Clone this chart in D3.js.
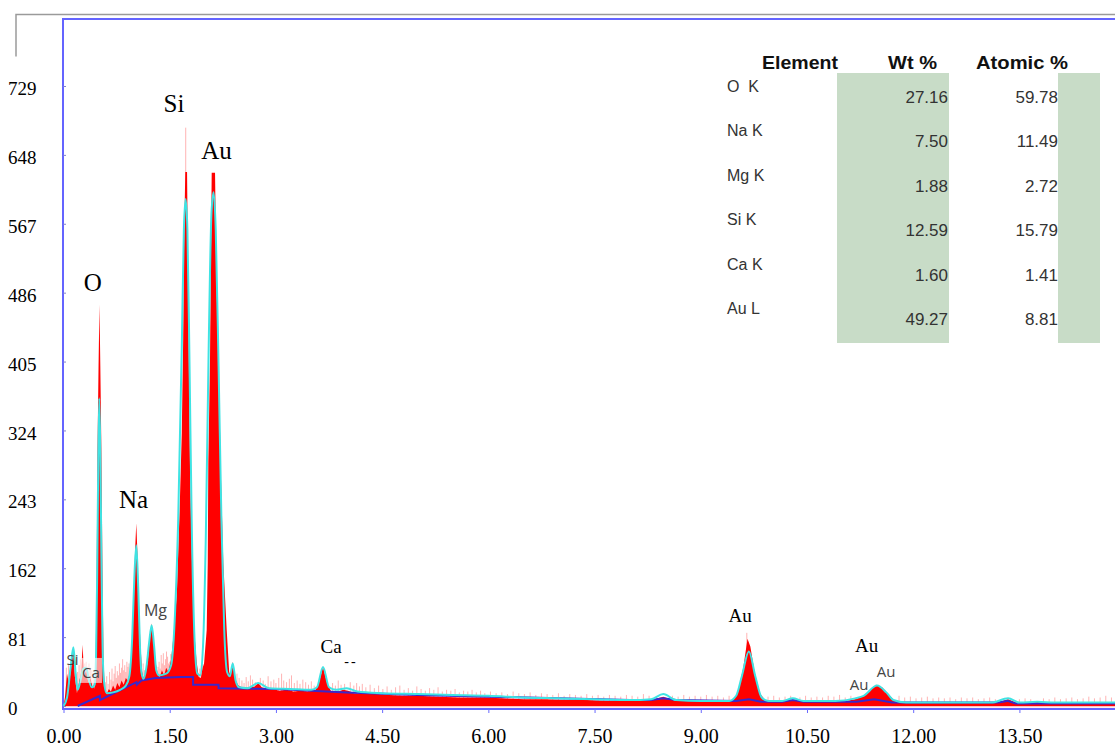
<!DOCTYPE html>
<html>
<head>
<meta charset="utf-8">
<script src="https://cdn.jsdelivr.net/npm/d3@7"></script>
<style>
body{margin:0;background:#fff;}
svg{display:block;}
</style>
</head>
<body>
<script>

// tick labels
var xTicks = [0, 1.5, 3, 4.5, 6, 7.5, 9, 10.5, 12, 13.5];
var yTicks = [0, 81, 162, 243, 324, 405, 486, 567, 648, 729];

// measured spectrum (keV, counts) - solid red
var rawSpectrum = [
  [0.00,0],[0.02,10],[0.05,38],[0.08,25],[0.11,50],[0.14,66],[0.16,35],[0.19,15],[0.22,28],[0.25,40],
  [0.27,72],[0.29,35],[0.32,42],[0.35,28],[0.38,33],[0.41,22],[0.43,25],[0.44,20],
  [0.455,60],[0.468,150],[0.48,300],[0.495,400],[0.508,472],[0.52,400],[0.535,300],[0.55,160],[0.565,60],
  [0.58,22],[0.61,14],[0.64,20],[0.67,17],[0.70,24],[0.73,19],[0.76,27],[0.79,22],[0.82,30],[0.85,25],
  [0.88,33],[0.91,30],[0.93,38],
  [0.95,45],[0.975,85],[0.995,140],[1.012,185],[1.028,215],[1.044,180],[1.06,135],[1.085,75],[1.11,40],
  [1.13,33],[1.16,38],[1.19,52],[1.215,76],[1.245,97],[1.27,82],[1.30,52],[1.33,38],
  [1.36,34],[1.39,42],[1.42,36],[1.45,45],[1.48,40],[1.52,55],[1.55,80],
  [1.60,130],[1.64,230],[1.67,320],[1.69,430],[1.705,560],[1.72,628],[1.745,628],[1.76,500],[1.775,360],
  [1.79,260],[1.815,168],[1.84,95],[1.88,52],[1.91,34],[1.94,33],[1.965,45],
  [1.985,50],[2.022,89],[2.037,168],[2.045,286],[2.069,407],[2.083,536],[2.093,627],[2.14,627],[2.164,486],
  [2.21,328],[2.218,286],[2.257,168],[2.305,89],[2.34,40],
  [2.36,36],[2.39,52],[2.43,30],[2.47,24],[2.52,22],[2.58,20],[2.64,22],[2.70,23],[2.75,27],[2.80,22],
  [2.88,19],[2.95,20],[3.05,18],[3.15,19],[3.25,17],[3.35,18],[3.45,17],[3.55,18],[3.60,25],[3.665,46],
  [3.72,28],[3.78,17],[3.85,16],[3.95,19],[4.02,18],[4.1,15],[4.25,14],[4.4,14],[4.6,13],[4.8,12],
  [5.0,12],[5.3,11],[5.6,10],[5.9,10],[6.2,9],[6.5,8],[6.8,8],[7.1,7],[7.4,7],[7.7,6],[8.0,6],[8.3,7],
  [8.47,11],[8.65,6],[8.9,6],[9.2,5],[9.45,6],[9.52,15],[9.6,45],[9.66,79],[9.7,70],[9.76,40],[9.84,14],
  [9.92,6],[10.1,5],[10.3,7],[10.5,5],[10.8,5],[11.0,5],[11.18,8],[11.3,12],[11.4,20],[11.48,25],
  [11.56,22],[11.65,14],[11.74,6],[11.9,4],[12.3,4],[12.8,4],[13.2,4],[13.34,8],[13.45,4],[13.75,5],
  [14.2,4],[14.85,4]
];

// single-channel noise spikes (keV, counts) - pale red
var noiseSpikes = [
  [0.04,45],[0.07,48],[0.09,42],[0.12,60],[0.18,38],[0.20,40],[0.22,48],[0.24,55],[0.30,50],[0.32,52],
  [0.34,46],[0.36,50],[0.38,45],[0.40,42],[0.42,38],
  [0.59,28],[0.61,35],[0.63,26],[0.65,40],[0.67,31],[0.685,44],[0.70,29],[0.715,38],[0.73,47],[0.745,33],
  [0.76,41],[0.775,36],[0.79,50],[0.805,39],[0.82,45],[0.835,55],[0.85,42],[0.865,48],[0.88,40],[0.895,52],
  [0.91,46],[0.925,50],[1.105,44],[1.125,50],[1.145,42],
  [1.335,46],[1.35,52],[1.365,44],[1.38,60],[1.395,50],[1.41,62],[1.425,48],[1.44,55],[1.455,64],[1.47,58],
  [1.485,50],[1.50,52],[1.515,61],[1.53,57],[1.545,66],[1.726,680],[1.925,44],[1.945,48],[1.96,52],
  [2.33,44],[2.45,38],[2.48,33],
  [2.52,30],[2.55,27],[2.58,34],[2.61,29],[2.64,36],[2.67,31],[2.71,28],[2.78,33],[2.82,30],[2.85,26],
  [2.89,35],[2.93,29],[2.97,31],[3.0,27],[3.04,33],[3.08,38],[3.11,30],[3.15,28],[3.19,32],[3.22,36],
  [3.26,27],[3.3,30],[3.34,26],[3.38,31],[3.42,28],[3.46,25],[3.5,29],[3.54,24],[3.8,27],[3.84,24],
  [3.88,30],[3.92,25],[3.97,26],[4.05,28],[4.1,24],[4.14,27],[4.18,23],[4.22,26],
  [4.27,22],[4.33,25],[4.39,21],[4.45,24],[4.51,20],[4.57,23],[4.63,19],[4.69,22],[4.75,24],[4.81,19],
  [4.87,21],[4.93,18],[4.99,23],[5.05,20],[5.11,18],[5.17,21],[5.23,19],[5.29,22],[5.35,17],[5.41,19],
  [5.47,18],[5.53,20],[5.59,16],[5.65,18],[5.71,17],[5.77,19],[5.83,16],[5.89,18],[5.95,15],
  [6.03,17],[6.11,15],[6.19,16],[6.27,14],[6.35,17],[6.43,15],[6.51,14],[6.59,16],[6.67,13],[6.75,15],
  [6.83,14],[6.91,13],[6.99,15],[7.07,12],[7.15,14],[7.23,13],[7.31,12],[7.39,14],[7.47,12],[7.55,13],
  [7.63,11],[7.71,13],[7.79,12],[7.87,11],[7.95,13],[8.03,12],[8.11,11],[8.19,14],[8.27,12],[8.6,12],
  [8.68,11],[8.76,13],[8.84,11],[8.92,12],[9.0,11],[9.08,13],[9.16,11],[9.24,12],[9.32,10],[9.4,12],
  [9.65,86],
  [9.95,11],[10.03,12],[10.11,10],[10.19,11],[10.27,12],[10.4,10],[10.48,12],[10.56,10],[10.64,11],[10.72,10],
  [10.8,12],[10.88,11],[10.96,13],[11.04,10],[11.12,12],
  [11.8,12],[11.88,10],[11.96,11],[12.04,9],[12.12,10],[12.2,11],[12.28,9],[12.36,10],[12.44,9],[12.52,10],
  [12.6,8],[12.68,10],[12.76,9],[12.84,10],[12.92,8],[13.0,9],[13.08,10],[13.16,8],[13.5,8],[13.58,9],
  [13.66,8],[13.84,9],[13.92,8],[14.0,10],[14.08,8],[14.16,9],[14.24,10],[14.32,8],[14.4,9],[14.48,11],
  [14.56,9],[14.64,10],[14.72,12],[14.8,10]
];

// fitted spectrum (keV, counts) - cyan
var fitSpectrum = [
  [0.0,0],[0.05,10],[0.10,45],[0.14,69],[0.17,40],[0.20,19],[0.24,30],[0.28,44],[0.32,45],[0.36,30],
  [0.40,22],[0.44,25],[0.46,60],[0.475,150],[0.49,280],[0.505,362],[0.52,300],[0.535,180],[0.55,80],
  [0.57,30],[0.61,15],[0.70,16],[0.80,19],[0.88,24],[0.93,35],[0.97,80],[1.00,150],[1.028,189],
  [1.055,140],[1.08,70],[1.10,40],[1.13,32],[1.17,45],[1.21,75],[1.245,95],[1.28,70],[1.31,42],
  [1.35,36],[1.45,38],[1.52,48],[1.57,100],[1.62,220],[1.67,420],[1.70,560],[1.725,596],[1.75,560],
  [1.78,400],[1.81,220],[1.85,80],[1.89,38],[1.93,36],[1.97,70],[2.01,200],[2.05,420],[2.09,580],
  [2.12,604],[2.15,560],[2.19,400],[2.23,220],[2.27,90],[2.31,40],[2.35,35],[2.39,50],[2.43,30],
  [2.48,22],[2.6,21],[2.75,27],[2.9,21],[3.2,20],[3.5,19],[3.58,22],[3.665,46],[3.75,22],[3.85,19],
  [4.0,21],[4.15,17],[4.5,15],[5.0,14],[5.5,13],[6.0,12],[6.5,10],[7.0,9],[7.5,8],[8.0,7],[8.3,8],
  [8.47,14],[8.65,7],[9.0,6],[9.4,6],[9.5,12],[9.58,35],[9.68,64],[9.77,35],[9.86,10],[9.95,6],
  [10.15,6],[10.3,9],[10.45,6],[10.9,6],[11.18,9],[11.3,12],[11.49,24],[11.62,16],[11.72,7],[11.9,4],
  [13.1,4],[13.34,9],[13.5,4],[13.75,5],[14.0,4],[14.85,4]
];

// background (keV, counts) - dark blue
var background = [
  [0.20,0],[0.515,12],[0.515,7],[1.03,28],[1.035,25],[1.10,30],[1.30,33],[1.65,34],[1.83,34],[1.83,25],
  [2.19,25],[2.19,21],[3.0,20],[4.0,16],[5.0,13],[6.0,11],[8.0,7],[8.3,7],[8.47,9],[8.65,7],[9.5,6],
  [9.68,8],[9.85,5],[10.15,5],[10.3,7],[10.45,5],[11.2,5],[11.45,8],[11.7,4],[13.2,4],[13.33,6],
  [13.45,3],[14.85,3]
];

// peak labels (keV, counts of baseline)
var bigLabels = [['O',0.414,488],['Na',0.989,233],['Si',1.561,698],['Au',2.161,643]];
var midLabels = [['Ca',3.778,62],['Au',9.555,99],['Au',11.342,63]];
var smallLabels = [['Mg',1.299,106,16],['Si',0.127,48,15],['Ca',0.388,33,15],['Au',11.235,19,15],['Au',11.617,34,15]];

// quant table
var elements = ['O  K', 'Na K', 'Mg K', 'Si K', 'Ca K', 'Au L'];
var wtPct = ['27.16', '7.50', '1.88', '12.59', '1.60', '49.27'];
var atomicPct = ['59.78', '11.49', '2.72', '15.79', '1.41', '8.81'];


var svg = d3.select('body').append('svg')
    .attr('width', 1115)
    .attr('height', 747);

var x = d3.scaleLinear().domain([0, 14.85]).range([63.5, 1115]);
var y = d3.scaleLinear().domain([0, 729]).range([706, 86]);

// outer grey frame
svg.append('path')
    .attr('d', 'M16,56.5V14.5H1115')
    .attr('fill', 'none')
    .attr('stroke', '#9a9a9a')
    .attr('stroke-width', 1.5);

// plot frame
svg.append('rect')
    .attr('x', 63)
    .attr('y', 19)
    .attr('width', 1080)
    .attr('height', 690)
    .attr('fill', '#fff')
    .attr('stroke', '#6464ff')
    .attr('stroke-width', 2);

svg.append('line')
    .attr('x1', 64).attr('x2', 1115)
    .attr('y1', 706.5).attr('y2', 706.5)
    .attr('stroke', '#ffc0c0')
    .attr('stroke-width', 1.5);

// spectrum
var area = d3.area()
    .x(function(d){ return x(d[0]); })
    .y0(y(0))
    .y1(function(d){ return y(d[1]); });

svg.selectAll('.spike')
    .data(noiseSpikes)
    .enter().append('line')
    .attr('class', 'spike')
    .attr('x1', function(d){ return x(d[0]); })
    .attr('x2', function(d){ return x(d[0]); })
    .attr('y1', y(0))
    .attr('y2', function(d){ return y(d[1]); })
    .attr('stroke', '#ff6a6a')
    .attr('stroke-opacity', 0.5)
    .attr('stroke-width', 1);

svg.append('path')
    .datum(rawSpectrum)
    .attr('d', area)
    .attr('fill', '#ff0000');

var line = d3.line()
    .x(function(d){ return x(d[0]); })
    .y(function(d){ return y(d[1]); });

svg.append('path')
    .datum(background)
    .attr('d', line)
    .attr('fill', 'none')
    .attr('stroke', '#3b27c9')
    .attr('stroke-width', 2);

svg.append('path')
    .datum(fitSpectrum)
    .attr('d', line.curve(d3.curveMonotoneX))
    .attr('fill', 'none')
    .attr('stroke', '#3fe3e3')
    .attr('stroke-width', 2);

// axes
var gx = svg.append('g')
    .attr('transform', 'translate(0,709)')
    .call(d3.axisBottom(x).tickValues(xTicks).tickFormat(d3.format('.2f')).tickSize(4).tickPadding(16));
gx.select('.domain').remove();
gx.selectAll('line').attr('stroke', '#6a6aff');
gx.selectAll('text')
    .attr('font-family', 'Liberation Serif, serif')
    .attr('font-size', 20)
    .attr('fill', '#000');

var gy = svg.append('g')
    .attr('transform', 'translate(63,0)')
    .call(d3.axisLeft(y).tickValues(yTicks).tickSize(-3));
gy.select('.domain').remove();
gy.selectAll('line').attr('stroke', '#8080d0');
gy.selectAll('text')
    .attr('x', -55)
    .attr('dy', '0.45em')
    .attr('text-anchor', 'start')
    .attr('font-family', 'Liberation Serif, serif')
    .attr('font-size', 19)
    .attr('fill', '#000');

// peak labels
svg.selectAll('.big')
    .data(bigLabels)
    .enter().append('text')
    .attr('x', function(d){ return x(d[1]); })
    .attr('y', function(d){ return y(d[2]); })
    .attr('text-anchor', 'middle')
    .attr('font-family', 'Liberation Serif, serif')
    .attr('font-size', 25)
    .text(function(d){ return d[0]; });

svg.selectAll('.mid')
    .data(midLabels)
    .enter().append('text')
    .attr('x', function(d){ return x(d[1]); })
    .attr('y', function(d){ return y(d[2]); })
    .attr('text-anchor', 'middle')
    .attr('font-family', 'Liberation Serif, serif')
    .attr('font-size', 19)
    .text(function(d){ return d[0]; });

svg.append('text')
    .attr('x', x(4.06))
    .attr('y', y(47))
    .attr('text-anchor', 'middle')
    .attr('font-family', 'Liberation Serif, serif')
    .attr('font-size', 14)
    .attr('letter-spacing', 2)
    .text('--');

var small = svg.selectAll('.small')
    .data(smallLabels)
    .enter().append('g');
small.filter(function(d, i){ return i == 2; })
    .append('rect')
    .attr('x', function(d){ return x(d[1]) - 11; })
    .attr('y', function(d){ return y(d[2]) - 20; })
    .attr('width', 22)
    .attr('height', 25)
    .attr('fill', '#fff')
    .attr('fill-opacity', 0.6);
small.append('text')
    .attr('x', function(d){ return x(d[1]); })
    .attr('y', function(d){ return y(d[2]); })
    .attr('text-anchor', 'middle')
    .attr('font-family', 'Open Sans, sans-serif')
    .attr('font-size', function(d){ return d[3]; })
    .attr('fill', '#454545')
    .text(function(d){ return d[0]; });

// table
var rowY = d3.scaleLinear().domain([0, 1]).range([92, 136.4]);

svg.append('rect')
    .attr('x', 837).attr('y', 73)
    .attr('width', 112).attr('height', 270)
    .attr('fill', '#c8dcc7');
svg.append('rect')
    .attr('x', 1058).attr('y', 73)
    .attr('width', 42).attr('height', 270)
    .attr('fill', '#c8dcc7');

var headers = [['Element', 838, 76], ['Wt %', 937, 49], ['Atomic %', 1068, 92]];
svg.selectAll('.hdr')
    .data(headers)
    .enter().append('text')
    .attr('x', function(d){ return d[1] - d[2]; })
    .attr('y', 69)
    .attr('textLength', function(d){ return d[2]; })
    .attr('lengthAdjust', 'spacingAndGlyphs')
    .attr('font-family', 'Liberation Sans, Arial, sans-serif')
    .attr('font-weight', 'bold')
    .attr('font-size', 18)
    .attr('fill', '#111')
    .text(function(d){ return d[0]; });

svg.selectAll('.el')
    .data(elements)
    .enter().append('text')
    .attr('x', 727)
    .attr('y', function(d, i){ return rowY(i); })
    .attr('font-family', 'Liberation Sans, Arial, sans-serif')
    .attr('font-size', 16)
    .attr('fill', '#333')
    .style('white-space', 'pre')
    .text(function(d){ return d; });

svg.selectAll('.wt')
    .data(wtPct)
    .enter().append('text')
    .attr('x', 948)
    .attr('y', function(d, i){ return rowY(i) + 11; })
    .attr('text-anchor', 'end')
    .attr('font-family', 'Liberation Sans, Arial, sans-serif')
    .attr('font-size', 17)
    .attr('fill', '#333')
    .text(function(d){ return d; });

svg.selectAll('.at')
    .data(atomicPct)
    .enter().append('text')
    .attr('x', 1058)
    .attr('y', function(d, i){ return rowY(i) + 11; })
    .attr('text-anchor', 'end')
    .attr('font-family', 'Liberation Sans, Arial, sans-serif')
    .attr('font-size', 17)
    .attr('fill', '#333')
    .text(function(d){ return d; });

</script>
</body>
</html>
